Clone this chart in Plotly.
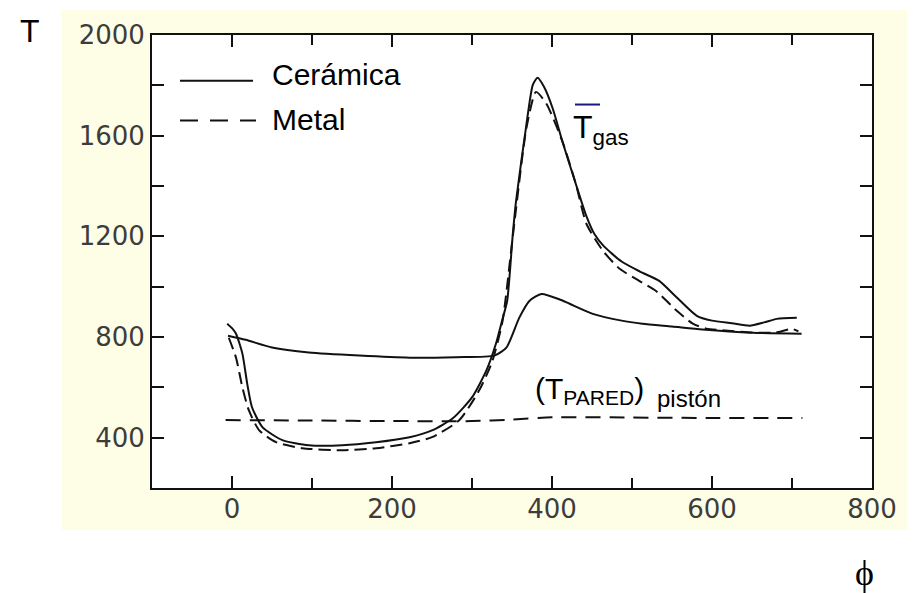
import plotly.graph_objects as go

# ---------------- data ----------------
phi_ceram_gas = [-6, 0, 5, 13, 19, 25, 38, 63, 96, 138, 180, 222, 250, 276, 300, 318, 330,
                 338, 344, 351, 355, 368, 376, 382, 390, 401, 413, 430, 443, 453, 465, 487,
                 510, 534, 555, 581, 600, 625, 647, 665, 681, 706]
T_ceram_gas = [853, 835, 813, 734, 615, 521, 442, 390, 370, 370, 382, 402, 429, 477, 560, 667, 774,
               870, 944, 1209, 1339, 1644, 1802, 1830, 1794, 1707, 1577, 1406, 1280, 1209, 1160, 1100,
               1060, 1023, 960, 884, 865, 855, 845, 858, 872, 876]

phi_metal_gas = [-4, 5, 13, 21, 34, 55, 88, 138, 180, 222, 250, 284, 309, 325, 338, 351, 368,
                 380, 393, 413, 430, 443, 464, 485, 509, 530, 556, 576, 593, 620, 650, 680, 700, 708]
T_metal_gas = [797, 718, 600, 509, 429, 382, 358, 350, 358, 378, 402, 469, 588, 700, 860, 1200, 1630,
               1774, 1727, 1577, 1406, 1250, 1141, 1070, 1023, 983, 904, 853, 833, 825, 818, 818, 832, 822]

phi_ceram_wall = [-5, 17, 50, 96, 159, 222, 280, 328, 343, 359, 372, 387, 409, 422, 451, 487,
                  513, 550, 588, 651, 712]
T_ceram_wall = [805, 789, 758, 738, 726, 718, 720, 726, 758, 876, 944, 971, 950, 932, 892, 865,
                853, 842, 830, 817, 813]

phi_metal_wall = [-8, 100, 200, 300, 350, 400, 500, 600, 713]
T_metal_wall = [470, 468, 466, 466, 472, 481, 480, 478, 478]

x_range = [-100, 800]
y_range = [200, 2000]
legend_labels = ["Cerámica", "Metal"]

# ---------------- layout helpers ----------------
# the page body has an 8px margin, so screen position = figure position + 8
OFF = 8
W, H = 915, 593
ML, MT = 152 - OFF, 32 - OFF
PW, PH = 720, 456
MR, MB = W - ML - PW, H - MT - PH


def px(x):
    return (x - OFF - ML) / PW


def py(y):
    return (MT + PH - (y - OFF)) / PH


LINE = "#111111"
fig = go.Figure()

fig.add_trace(go.Scatter(x=phi_ceram_gas, y=T_ceram_gas, mode="lines",
                         line=dict(color=LINE, width=2, shape="spline", smoothing=0.6),
                         name="Cerámica", showlegend=False))
fig.add_trace(go.Scatter(x=phi_metal_gas, y=T_metal_gas, mode="lines",
                         line=dict(color=LINE, width=2, dash="12px,6px", shape="spline", smoothing=0.6),
                         name="Metal", showlegend=False))
fig.add_trace(go.Scatter(x=phi_ceram_wall, y=T_ceram_wall, mode="lines",
                         line=dict(color=LINE, width=2, shape="spline", smoothing=0.6),
                         name="Cerámica pared", showlegend=False))
fig.add_trace(go.Scatter(x=phi_metal_wall, y=T_metal_wall, mode="lines",
                         line=dict(color=LINE, width=2, dash="15px,9px", shape="spline", smoothing=0.6),
                         name="Metal pared", showlegend=False))

tickfont = dict(family="DejaVu Sans", size=26, color="#3c3c3c")

fig.update_xaxes(range=x_range, tick0=0, dtick=200, ticks="inside", ticklen=12, tickwidth=1.5,
                 tickcolor=LINE, showline=True, linecolor=LINE, linewidth=2, mirror="allticks",
                 showgrid=False, zeroline=False, tickfont=tickfont, ticklabelstandoff=-3,
                 minor=dict(dtick=100, ticks="inside", ticklen=10, tickwidth=1.5, tickcolor=LINE,
                            showgrid=False))
fig.update_yaxes(range=y_range, tick0=0, dtick=400, ticks="inside", ticklen=12, tickwidth=1.5,
                 tickcolor=LINE, showline=True, linecolor=LINE, linewidth=2, mirror="allticks",
                 showgrid=False, zeroline=False, tickfont=tickfont, ticklabelstandoff=0,
                 minor=dict(dtick=200, ticks="inside", ticklen=12, tickwidth=1.5, tickcolor=LINE,
                            showgrid=False))

shapes = [
    # cream scanned-paper background
    dict(type="rect", xref="paper", yref="paper", x0=px(62), x1=px(910), y0=py(530), y1=py(7),
         fillcolor="#FEFDE5", line=dict(width=0), layer="below"),
    # white plotting area
    dict(type="rect", xref="paper", yref="paper", x0=0, x1=1, y0=0, y1=1,
         fillcolor="white", line=dict(width=0), layer="below"),
    # legend samples
    dict(type="line", xref="paper", yref="paper", x0=px(180), x1=px(253), y0=py(78), y1=py(78),
         line=dict(color=LINE, width=2)),
    dict(type="line", xref="paper", yref="paper", x0=px(180), x1=px(256), y0=py(118), y1=py(118),
         line=dict(color=LINE, width=2, dash="18px,12px")),
    # overbar of T gas
    dict(type="line", xref="paper", yref="paper", x0=px(575), x1=px(600), y0=py(102), y1=py(102),
         line=dict(color="#1a1a7a", width=2)),
]

AR = "Liberation Sans, Arial, sans-serif"
ann = [
    dict(text="T", x=px(30), y=py(OFF), xanchor="center", yanchor="top",
         font=dict(family=AR, size=32, color="black")),
    dict(text="ϕ", x=px(864), y=py(574), xanchor="center", yanchor="middle",
         font=dict(family="Liberation Serif, Times New Roman, serif", size=36, color="black")),
    dict(text=legend_labels[0], x=px(270), y=py(72), xanchor="left", yanchor="middle",
         font=dict(family=AR, size=30, color="black")),
    dict(text=legend_labels[1], x=px(270), y=py(117), xanchor="left", yanchor="middle",
         font=dict(family=AR, size=30, color="black")),
    dict(text="T<sub>gas</sub>", x=px(571), y=py(127), xanchor="left", yanchor="middle",
         font=dict(family=AR, size=32, color="black")),
    dict(text="(T<sub>PARED</sub>)", x=px(533), y=py(390), xanchor="left", yanchor="middle",
         font=dict(family=AR, size=30, color="black")),
    dict(text="pistón", x=px(655), y=py(398), xanchor="left", yanchor="middle",
         font=dict(family=AR, size=24, color="black")),
]
for a in ann:
    a.update(xref="paper", yref="paper", showarrow=False)

fig.update_layout(width=W, height=H, margin=dict(l=ML, r=MR, t=MT, b=MB),
                  paper_bgcolor="white", plot_bgcolor="white",
                  shapes=shapes, annotations=ann, showlegend=False)

fig.write_html("out.html")
